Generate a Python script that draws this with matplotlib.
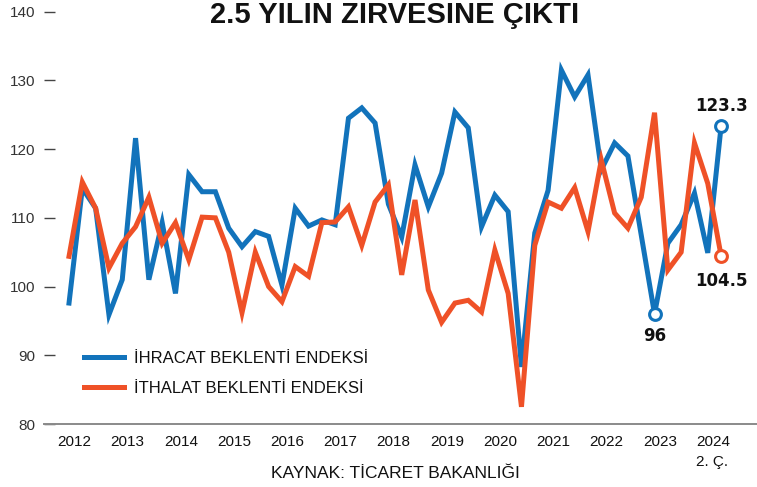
import matplotlib.pyplot as plt
import numpy as np

# Quarterly index values, 2012 Q1 .. 2024 Q2
ihracat = [97.6, 114.3, 111.4, 95.9, 101.0, 121.6, 101.0, 109.3, 99.0, 116.3,
           113.8, 113.8, 108.5, 105.8, 108.0, 107.3, 100.2, 111.4, 108.8, 109.7,
           109.0, 124.5, 126.0, 123.8, 112.0, 107.2, 117.7, 111.6, 116.5, 125.4,
           123.1, 108.7, 113.3, 110.9, 88.3, 107.8, 114.0, 131.5, 127.6, 130.8,
           117.0, 120.9, 119.0, 107.5, 96.0, 106.3, 109.0, 113.6, 104.9, 123.3]
ithalat = [104.4, 115.2, 111.4, 102.7, 106.3, 108.7, 113.0, 106.3, 109.3, 103.9,
           110.1, 110.0, 105.0, 96.2, 105.0, 100.0, 97.8, 102.9, 101.5, 109.3,
           109.4, 111.6, 106.0, 112.3, 114.8, 101.7, 112.6, 99.5, 94.8, 97.6,
           98.0, 96.3, 105.3, 99.0, 82.5, 106.0, 112.3, 111.4, 114.4, 108.0,
           118.4, 110.7, 108.5, 113.0, 125.3, 102.4, 105.0, 120.9, 115.0, 104.5]
years = [str(y) for y in range(2012, 2025)]
yticks = [80, 90, 100, 110, 120, 130, 140]

BLUE = '#1273bb'
RED = '#ef5127'
narrow = ['Liberation Sans Narrow', 'Liberation Sans', 'DejaVu Sans']

x = np.arange(len(ihracat))

fig = plt.figure(figsize=(7.57, 4.87), dpi=100)
ax = fig.add_axes([44 / 757, 63 / 487, 713 / 757, 424 / 487])

ax.plot(x, ihracat, color=BLUE, lw=3.6, solid_joinstyle='miter',
        label='İHRACAT BEKLENTİ ENDEKSİ')
ax.plot(x, ithalat, color=RED, lw=3.6, solid_joinstyle='miter',
        label='İTHALAT BEKLENTİ ENDEKSİ')

# hollow end / minimum markers
imin = 44
ax.plot([x[-1]], [ihracat[-1]], 'o', ms=8.5, mfc='white', mec=BLUE, mew=2.2)
ax.plot([x[imin]], [ihracat[imin]], 'o', ms=8.5, mfc='white', mec=BLUE, mew=2.2)
ax.plot([x[-1]], [ithalat[-1]], 'o', ms=8.5, mfc='white', mec=RED, mew=2.2)

ax.annotate('123.3', (x[-1], ihracat[-1]), xytext=(0, 8), textcoords='offset points',
            ha='center', va='bottom', fontsize=12, fontweight='bold', color='#111')
ax.annotate('96', (x[imin], ihracat[imin]), xytext=(0, -9), textcoords='offset points',
            ha='center', va='top', fontsize=12, fontweight='bold', color='#111')
ax.annotate('104.5', (x[-1], ithalat[-1]), xytext=(0, -12), textcoords='offset points',
            ha='center', va='top', fontsize=12, fontweight='bold', color='#111')

ax.set_xlim(-1.88, 51.7)
ax.set_ylim(80, 141.7)

ax.set_yticks(yticks)
ax.set_yticklabels([str(v) for v in yticks], family=narrow, fontsize=11, color='#333')
ax.set_xticks([4 * k + 0.4 for k in range(len(years))])
ax.set_xticklabels(years, family=narrow, fontsize=11, color='#111')
ax.tick_params(axis='y', direction='in', length=8, width=1, color='#444', pad=6)
ax.tick_params(axis='x', length=0, pad=8)

for s in ['top', 'right', 'left']:
    ax.spines[s].set_visible(False)
ax.spines['bottom'].set_color('#8a8a8a')
ax.spines['bottom'].set_linewidth(1.4)

leg = ax.legend(loc='lower left', bbox_to_anchor=(0.035, 0.03), frameon=False,
                handlelength=2.4, handletextpad=0.6, labelspacing=0.9,
                prop={'family': narrow, 'size': 12})
for t in leg.get_texts():
    t.set_color('#111')

fig.text(395 / 757, 1 - 15 / 487, '2.5 YILIN ZIRVESINE ÇIKTI', ha='center', va='center',
         family=narrow, fontsize=21, fontweight='bold', color='#111')
fig.text(728 / 757, 1 - 462 / 487, '2. Ç.', ha='right', va='center',
         family=narrow, fontsize=11, color='#111')
fig.text(395 / 757, 1 - 474 / 487, 'KAYNAK: TİCARET BAKANLIĞI', ha='center', va='center',
         family=narrow, fontsize=12.5, color='#111')

fig.savefig('out.png', dpi=100)
